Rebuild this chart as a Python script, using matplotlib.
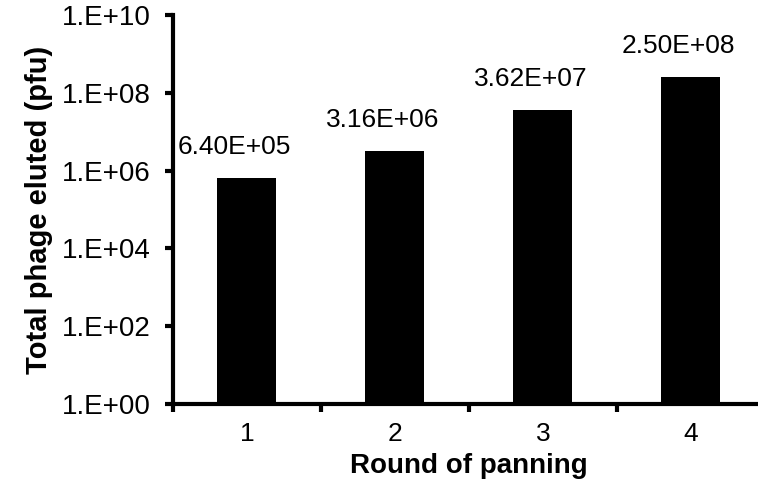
import matplotlib
matplotlib.use('Agg')
import matplotlib.pyplot as plt
import numpy as np

plt.rcParams['font.family'] = ['Liberation Sans', 'DejaVu Sans']

rounds = [1, 2, 3, 4]
phage = [6.40e5, 3.16e6, 3.62e7, 2.50e8]
labels = ['6.40E+05', '3.16E+06', '3.62E+07', '2.50E+08']
ytick_vals = [1e0, 1e2, 1e4, 1e6, 1e8, 1e10]
ytick_labels = ['1.E+00', '1.E+02', '1.E+04', '1.E+06', '1.E+08', '1.E+10']

fig = plt.figure(figsize=(7.58, 4.86), dpi=100)
ax = fig.add_axes([0.228, 0.169, 0.781, 0.8])

x = np.array(rounds)
ax.bar(x, phage, width=0.4, color='black', bottom=1)
ax.set_yscale('log')
ax.set_ylim(1, 1e10)
ax.set_xlim(0.5, 4.5)

# value labels sit a little left of the bar centre, like the original
for xi, v, s in zip(x, phage, labels):
    ax.annotate(s, (xi, v), xytext=(-9, 14), textcoords='offset points',
                ha='center', va='bottom', fontsize=19)

ax.set_yticks(ytick_vals)
ax.set_yticklabels(ytick_labels, fontsize=20)
ax.yaxis.set_minor_locator(matplotlib.ticker.NullLocator())

# ticks sit at category boundaries, labels at centres
ax.set_xticks([0.5, 1.5, 2.5, 3.5])
ax.set_xticklabels([])
ax.set_xticks(x, minor=True)
ax.set_xticklabels([str(r) for r in rounds], minor=True, fontsize=19)
ax.tick_params(axis='x', which='minor', length=0, pad=13)
ax.tick_params(axis='both', which='major', length=6, width=3, direction='out')
ax.tick_params(axis='y', pad=10)

for side in ['top', 'right']:
    ax.spines[side].set_visible(False)
for side in ['left', 'bottom']:
    ax.spines[side].set_linewidth(3)

ax.set_xlabel('Round of panning', fontsize=20, fontweight='bold', labelpad=5)
ax.set_ylabel('Total phage eluted (pfu)', fontsize=21, fontweight='bold', labelpad=6)

fig.savefig('out.png', dpi=100)
